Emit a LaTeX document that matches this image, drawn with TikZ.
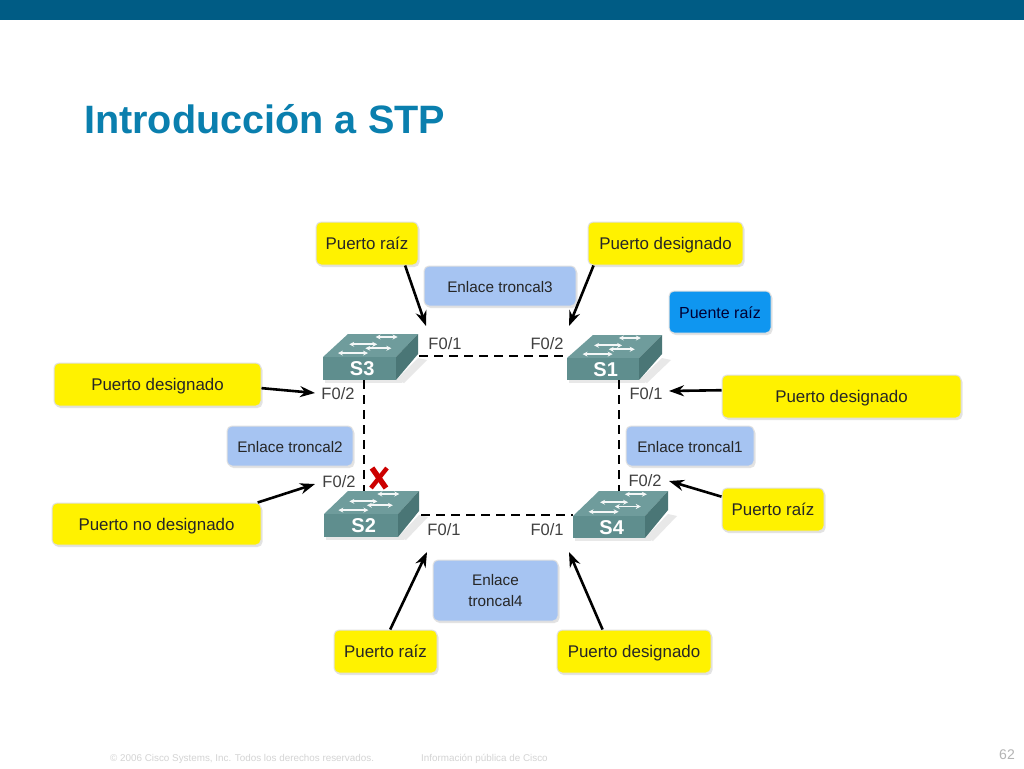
\documentclass[tikz,border=0pt]{standalone}
\usepackage{fontspec}
\setmainfont{Liberation Sans}
\usetikzlibrary{shadows,arrows.meta}
\definecolor{barblue}{HTML}{005C85}
\definecolor{titleblue}{HTML}{0A7FAE}
\definecolor{calloutyellow}{HTML}{FFF200}
\definecolor{linkblue}{HTML}{A6C4F2}
\definecolor{rootblue}{HTML}{0F96F0}
\definecolor{swfront}{HTML}{5F8E8E}
\definecolor{swtop}{HTML}{6F9C9C}
\definecolor{swside}{HTML}{4A7676}
\definecolor{footgray}{HTML}{D4D4D4}
\tikzset{
  boxbase/.style={rounded corners=5pt,draw=black!12,line width=1pt,align=center,inner sep=0pt,text height=14pt,text depth=1.5pt,font=\fontsize{16.9}{20}\selectfont,text=black!85,
     drop shadow={opacity=.22,shadow xshift=1.5pt,shadow yshift=-2pt}},
  callout/.style={boxbase,fill=calloutyellow},
  linkbox/.style={boxbase,fill=linkblue,font=\fontsize{15.3}{21}\selectfont},
  rootbox/.style={boxbase,fill=rootblue,text=black!80!blue,font=\fontsize{16}{20}\selectfont},
  port/.style={font=\fontsize{16.5}{18}\selectfont,text=black!75,inner sep=0pt},
  pointer/.style={line width=2.6pt,-{Stealth[length=15pt,width=11pt]},black},
  trunk/.style={line width=2.6pt,dash pattern=on 9pt off 6pt,black},
  swlabel/.style={font=\bfseries\fontsize{20}{22}\selectfont,text=white,fill=swfront,inner sep=0pt},
  swarrow/.style={line width=1.8pt,white!92!swtop,{Stealth[length=5pt,width=5pt]}-{Stealth[length=5pt,width=5pt]}}
}
% name, x, y of top-left of front face, width, height, depth x, depth y
\newcommand{\swnode}[7]{%
  \fill[black!9] (#2+#4,#3+#5) -- (#2+#4+#6-3,#3+#5-#7+1) -- (#2+#4+#6+6,#3+#5-#7+3) -- (#2+#4+8,#3+#5+3) -- cycle;
  \fill[black!9] (#2+2,#3+#5) rectangle (#2+#4+6,#3+#5+3);
  \fill[swtop] (#2,#3) -- (#2+#6,#3-#7) -- (#2+#4+#6-3,#3-#7) -- (#2+#4,#3) -- cycle;
  \fill[swside] (#2+#4,#3) -- (#2+#4+#6-3,#3-#7) -- (#2+#4+#6-3,#3-#7+#5-3) -- (#2+#4,#3+#5) -- cycle;
  \node[swlabel,minimum width=#4 pt,minimum height=#5 pt,anchor=north west] (#1) at (#2,#3) {\hspace*{5pt}#1};
  \draw[swarrow] (#2+#6*0.6,#3-#7*.17) -- ++(30,0);
  \draw[swarrow] (#2+#6*0.85+5,#3-#7*.55) -- ++(28,0);
  \draw[swarrow] (#2+#4*.58,#3-#7*.38) -- ++(26,0);
  \draw[swarrow] (#2+#4*.72,#3-#7*.87) -- ++(22,0);
}
\begin{document}
\begin{tikzpicture}[x=1pt,y=-1pt]
\useasboundingbox (0,0) rectangle (1024,768);
\fill[white] (0,0) rectangle (1024,768);
\fill[barblue] (0,0) rectangle (1024,20);
\node[anchor=west,inner sep=0pt,font=\bfseries\fontsize{39.6}{42}\selectfont,text=titleblue] (title) at (84,119) {Introducción a STP};

% switches
\swnode{S3}{323}{357}{73}{23}{25}{23}
\swnode{S1}{567}{358}{72}{22}{26}{23}
\swnode{S2}{324}{514}{74}{23}{24}{23}
\swnode{S4}{573}{516}{72}{22}{26}{25}

% trunk connectors
\coordinate (s3e) at (419,356);
\coordinate (s2e) at (421,515);
\coordinate (s3s) at (364,380);
\coordinate (s2n) at (364,491);
\coordinate (s1w) at (567,356);
\coordinate (s4w) at (573,515);
\coordinate (s1s) at (619,380);
\coordinate (s4n) at (619,491);
\draw[trunk] (s3e) -- (s1w);
\draw[trunk] (s2e) -- (s4w);
\draw[trunk] (s3s) -- (s2n);
\draw[trunk] (s1s) -- (s4n);

% port labels
\node[port] (p31) at (445,344) {F0/1};
\node[port] (p12) at (547,344) {F0/2};
\node[port] (p32) at (338,394) {F0/2};
\node[port] (p11) at (646,394) {F0/1};
\node[port] (p22) at (339,482) {F0/2};
\node[port] (p42) at (645,481) {F0/2};
\node[port] (p21) at (444,530) {F0/1};
\node[port] (p41) at (547,530) {F0/1};

% red cross
\coordinate (xa) at (372,468);
\coordinate (xb) at (386,488);
\coordinate (xc) at (387,468);
\coordinate (xd) at (371,488);
\draw[line width=5.5pt,red!80!black] (xa) -- (xb);
\draw[line width=4.5pt,red!80!black] (xc) -- (xd);

% callouts
\node[callout,minimum width=102pt,minimum height=43pt] (rootT) at (367,243.5) {Puerto raíz};
\node[callout,minimum width=155pt,minimum height=43pt] (desT) at (665.5,243.5) {Puerto designado};
\node[linkbox,minimum width=152pt,minimum height=40pt] (tr3) at (500,286) {Enlace troncal3};
\node[rootbox,minimum width=102pt,minimum height=42pt] (puente) at (720,312) {Puente raíz};
\node[callout,minimum width=239pt,minimum height=43pt] (desR) at (841.5,396.5) {Puerto designado};
\node[linkbox,minimum width=128pt,minimum height=40pt] (tr1) at (690,446) {Enlace troncal1};
\node[callout,minimum width=102pt,minimum height=43pt] (rootR) at (773,509.5) {Puerto raíz};
\node[callout,minimum width=207pt,minimum height=43pt] (desL) at (157.5,384.5) {Puerto designado};
\node[linkbox,minimum width=126pt,minimum height=40pt] (tr2) at (290,446) {Enlace troncal2};
\node[callout,minimum width=209pt,minimum height=42pt] (nodes) at (156.5,524) {Puerto no designado};
\node[linkbox,minimum width=125pt,minimum height=61pt,text height=,text depth=] (tr4) at (495.5,590.5) {Enlace\\troncal4};
\node[callout,minimum width=103pt,minimum height=43pt] (rootB) at (385.5,651.5) {Puerto raíz};
\node[callout,minimum width=154pt,minimum height=43pt] (desB) at (634,651.5) {Puerto designado};

% pointer tips
\coordinate (t1) at (426,326);
\coordinate (t2) at (569,326);
\coordinate (t3) at (315,393);
\coordinate (t4) at (669,391);
\coordinate (t5) at (315,484);
\coordinate (t6) at (669,481);
\coordinate (t7) at (427,552);
\coordinate (t8) at (569,552);
\draw[pointer] (rootT.-30) -- (t1);
\draw[pointer] (desT.-163) -- (t2);
\draw[pointer] (desL.-2) -- (t3);
\draw[pointer] (desR.177) -- (t4);
\draw[pointer] (nodes.12) -- (t5);
\draw[pointer] (rootR.166) -- (t6);
\draw[pointer] (rootB.78) -- (t7);
\draw[pointer] (desB.145) -- (t8);

% footer
\node[anchor=west,inner sep=0pt,font=\fontsize{9.85}{11}\selectfont,text=footgray] (foot1) at (110,759) {© 2006 Cisco Systems, Inc. Todos los derechos reservados.};
\node[anchor=west,inner sep=0pt,font=\fontsize{9.85}{11}\selectfont,text=footgray] (foot2) at (421,759) {Información pública de Cisco};
\node[anchor=east,inner sep=0pt,font=\fontsize{14}{16}\selectfont,text=footgray!85!black] (pagenum) at (1015,755) {62};
\end{tikzpicture}
\end{document}
